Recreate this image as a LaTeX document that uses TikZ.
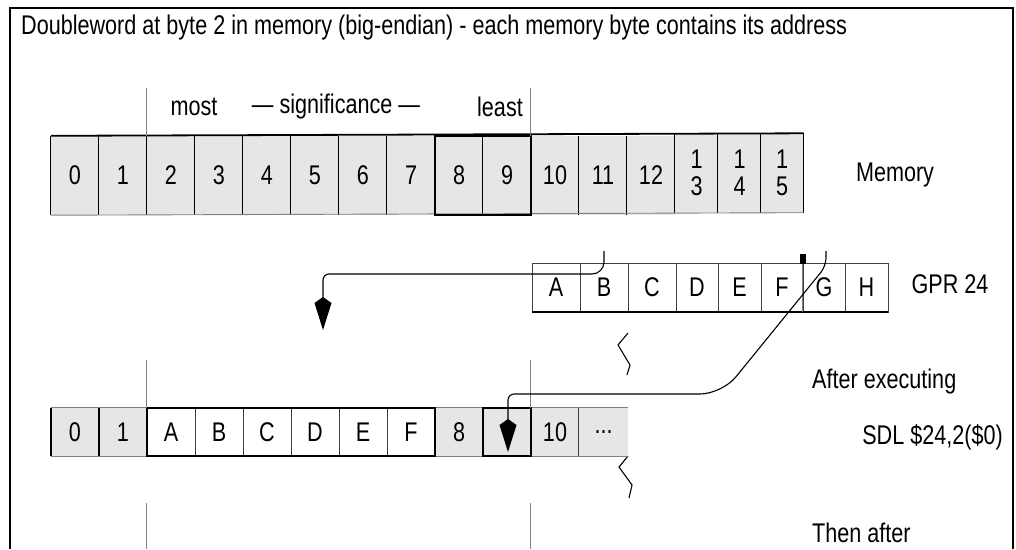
\documentclass[tikz,border=0pt]{standalone}
\usepackage{fontspec}
\setmainfont{Liberation Sans}[FakeStretch=0.8]
\usepackage{xcolor}
\usetikzlibrary{arrows.meta, positioning}
\definecolor{cellgray}{HTML}{E6E6E6}
\definecolor{guidegray}{HTML}{808080}
\newcommand{\cellfont}{\fontsize{27}{27}\selectfont}
\newcommand{\lblfont}{\fontsize{27}{29}\selectfont}
\tikzset{
  memcell/.style={rectangle, minimum height=79pt, inner sep=0pt, text centered, align=center, draw=none, fill=cellgray, font=\cellfont},
  regcell/.style={rectangle, minimum height=49pt, inner sep=0pt, text centered, draw=black!75, line width=0.7pt, fill=white, font=\cellfont},
  lowcell/.style={rectangle, minimum height=48pt, minimum width=48pt, inner sep=0pt, text centered, draw=none, fill=cellgray, font=\cellfont},
  wordcell/.style={rectangle, minimum height=48pt, minimum width=48pt, inner sep=0pt, text centered, draw=black!75, line width=0.7pt, fill=white, font=\cellfont},
  lbl/.style={inner sep=0pt, font=\lblfont},
  cellline/.style={black, line width=1.2pt},
  boldline/.style={black, line width=1.8pt},
  thinline/.style={guidegray, line width=0.9pt},
  guide/.style={guidegray, line width=1.2pt},
  flow/.style={black, line width=1.1pt, -{Kite[length=33pt, width=17pt, inset=6pt]}},
  zigzag/.style={black, line width=1.1pt}
}

\begin{document}
\begin{tikzpicture}[x=1pt, y=-1pt]
\useasboundingbox (0,0) rectangle (1016,549);
% Frame
\draw[line width=2pt] (10,549) -- (10,8) -- (1013,8) -- (1013,549);
\node[lbl, anchor=west] (title) at (21,28) {Doubleword at byte 2 in memory (big-endian) - each memory byte contains its address};

% MEMORY - top row
\foreach \i in {0,...,12}
  \node[memcell, minimum width=48pt] (m\i) at ({75+48*\i},175.5) {\i};
\foreach \i/\x/\d in {13/696.5/3, 14/739.5/4, 15/782/5}
  \node[memcell, minimum width=43pt] (m\i) at (\x,173) {1\\\d};
\foreach \i in {0,...,15}
  \draw[cellline] (m\i.north west) -- (m\i.south west);
\draw[cellline] (m15.north east) -- (m15.south east);
\draw[thinline] (m0.south west) -- (m15.south east);
\draw[boldline] (m0.north west) -- (m15.north east);
\draw[boldline] (m8.north west) rectangle (m9.south east);

\draw[guide] (m2.north west) -- ++(0,-48);
\draw[guide] (m10.north west) -- ++(0,-48);
\node[lbl] (most) at (194,107) {most};
\node[lbl] (signif) at (336,107) {— significance —};
\node[lbl] (least) at (500,107) {least};
\node[lbl] (memlbl) at (895,175) {Memory};

% GPR 24 - register
\foreach \r/\x/\w in {A/556/48, B/604/48, C/652/48, D/697/42, E/739.5/43, F/782/42, G/824/42, H/866.5/43}
  \node[regcell, minimum width=\w pt] (g\r) at (\x,287.5) {\r};
\draw[boldline] (gA.south west) -- (gH.south east);
\draw[guidegray, line width=1.6pt] (gG.north west) -- (gG.south west);
\fill (800,254) rectangle (806,264);
\node[lbl] (gprlbl) at (950,284) {GPR 24};

% break marks
\draw[zigzag] (628,333) -- (618,345) -- (630,365) -- (627,375);
\draw[zigzag] (628,456) -- (619,467) -- (632,485) -- (629,498);

% AFTER SDL - bottom row
\node[lowcell] (b0) at (75,432) {0};
\node[lowcell] (b1) at (123,432) {1};
\foreach \r [count=\k from 2] in {A,B,C,D,E,F}
  \node[wordcell] (b\k) at ({75+48*\k},432) {\r};
\node[lowcell] (b8) at (459,432) {8};
\node[lowcell] (b9) at (507,432) {};
\node[lowcell] (b10) at (555,432) {10};
\node[lowcell, minimum width=49pt] (b11) at (603.5,432) {...};
\draw[thinline] (b0.north west) -- (b1.north east);
\draw[thinline] (b0.south west) -- (b1.south east);
\draw[thinline] (b8.north west) -- (b11.north east);
\draw[thinline] (b8.south west) -- (b11.south east);
\draw[thinline, black!75] (b11.north west) -- (b11.south west);
\draw[boldline] (b2.north west) rectangle (b7.south east);
\draw[boldline] (b9.north west) rectangle (b9.south east);
\draw[boldline] (b0.north west) -- (b0.south west);
\draw[boldline] (b1.north west) -- (b1.south west);

\draw[guide] (b2.north west) -- ++(0,-48);
\draw[guide] (b10.north west) -- ++(0,-48);
\draw[guide] ([yshift=-47pt]b2.south west) -- ++(0,46);
\draw[guide] ([yshift=-47pt]b10.south west) -- ++(0,46);

\node[lbl, anchor=west] (after) at (812,382) {After executing};
\node[lbl, anchor=east] (sdl) at (1003,437) {SDL \$24,2(\$0)};
\node[lbl, anchor=west] (then) at (812,533) {Then after};

% data flow
\coordinate (srcB) at (604,251);
\coordinate (dstB) at (323,330);
\draw[flow] (srcB) [rounded corners=12pt] -- (604,274) [rounded corners=6pt] -- (323,274) -- (dstB);
\coordinate (srcG) at (826,251);
\coordinate (dstG) at (508,452);
\draw[flow] (srcG) [rounded corners=8pt] -- (826,266) [rounded corners=22pt] -- (722,394) [rounded corners=6pt] -- (508,394) -- (dstG);
\end{tikzpicture}
\end{document}
